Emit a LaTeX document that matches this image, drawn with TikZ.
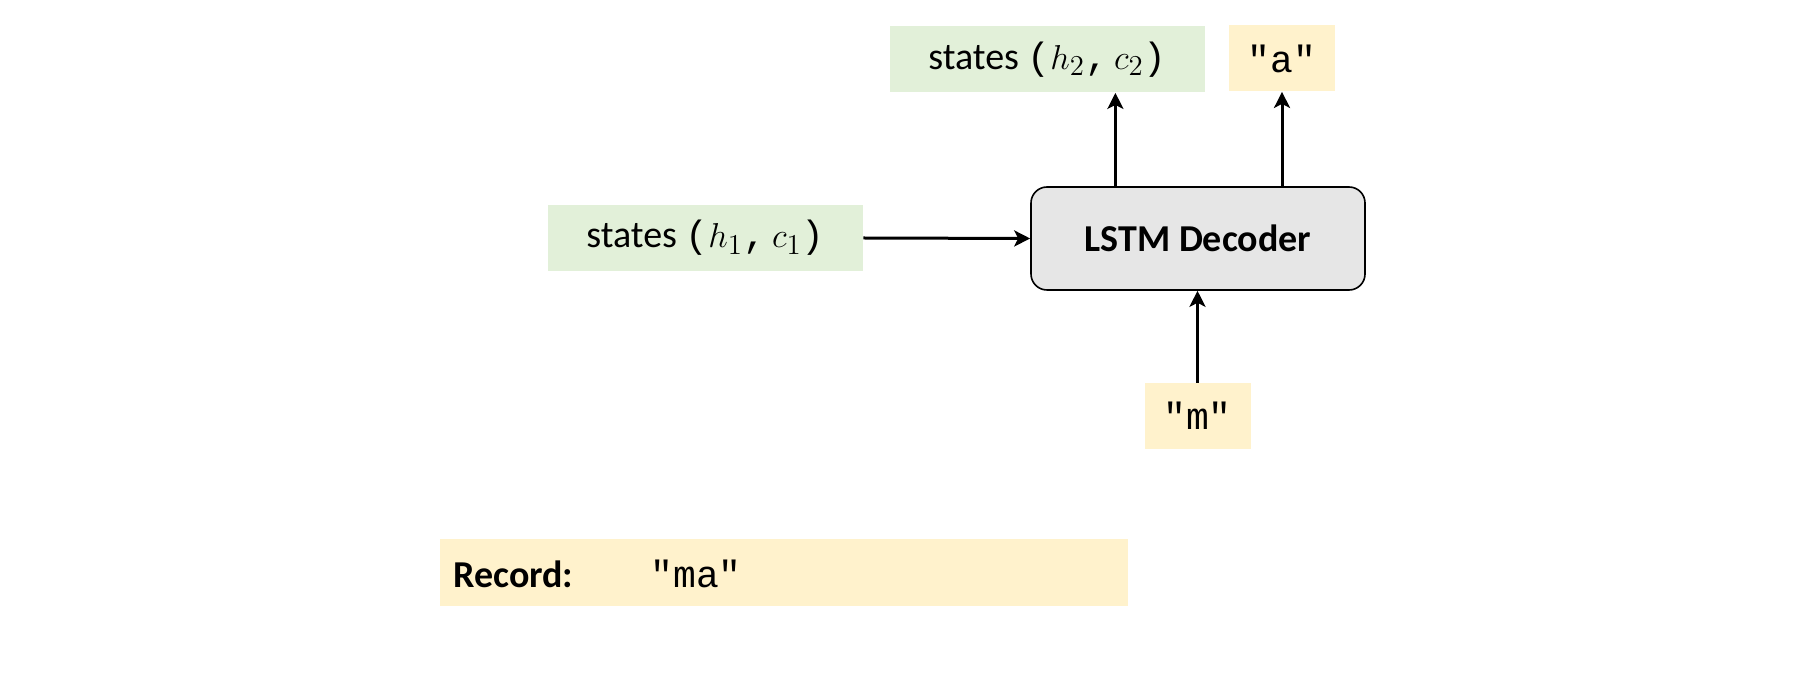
\documentclass[tikz,border=0pt]{standalone}
\usepackage{fontspec}
\setmainfont{Carlito}
\setmonofont{Liberation Mono}
\usetikzlibrary{positioning,arrows.meta}
\definecolor{stategreen}{HTML}{E2F0D9}
\definecolor{charyellow}{HTML}{FFF2CC}
\definecolor{decgray}{HTML}{E6E6E6}
\tikzset{
  statebox/.style={fill=stategreen, inner sep=0pt, minimum height=33pt, font=\fontsize{19}{22}\selectfont},
  charbox/.style={fill=charyellow, inner sep=0pt, minimum height=33pt, minimum width=53pt, font=\fontsize{19}{22}\selectfont},
  arr/.style={-{Stealth[length=8pt,width=8pt,inset=2pt]}, line width=1.5pt}
}
\begin{document}
\begin{tikzpicture}[x=0.5pt,y=-0.5pt]
  \useasboundingbox (0,0) rectangle (1797,699);

  % inputs and outputs
  \node[statebox, minimum width=157.5pt] (s1) at (705.5,238) {states \texttt{(}$h_1$\texttt{,}\,$c_1$\texttt{)}};
  \node[statebox, minimum width=157.5pt] (s2) at (1047.5,59.5) {states \texttt{(}$h_2$\texttt{,}\,$c_2$\texttt{)}};
  \node[charbox] (outa) at (1282,58.5) {\texttt{"a"}};
  \node[charbox] (inm) at (1197.5,416) {\texttt{"m"}};

  % decoder
  \node[draw, line width=0.8pt, fill=decgray, rounded corners=8pt, minimum width=167pt, minimum height=51.5pt,
        font=\fontsize{19}{22}\selectfont\bfseries] (dec) at (1198,238.5) {LSTM Decoder};

  % record
  \node[fill=charyellow, minimum width=344pt, minimum height=33.5pt] (rec) at (784,572.5) {};
  \node[anchor=west, inner sep=0pt, font=\fontsize{19}{22}\selectfont\bfseries] (reclab) at (453,574) {Record:};
  \node[anchor=west, inner sep=0pt, font=\fontsize{19}{22}\selectfont] (recval) at (650,574) {\texttt{"ma"}};

  % connectors
  \draw[arr] (s1.east) -- (dec.west);
  \draw[arr] (dec.north -| s2.east) ++(-90,0) coordinate (d2) -- (d2 |- s2.south);
  \draw[arr] (dec.north -| outa) -- (outa.south);
  \draw[arr] (inm.north) -- (inm.north |- dec.south);
\end{tikzpicture}
\end{document}
